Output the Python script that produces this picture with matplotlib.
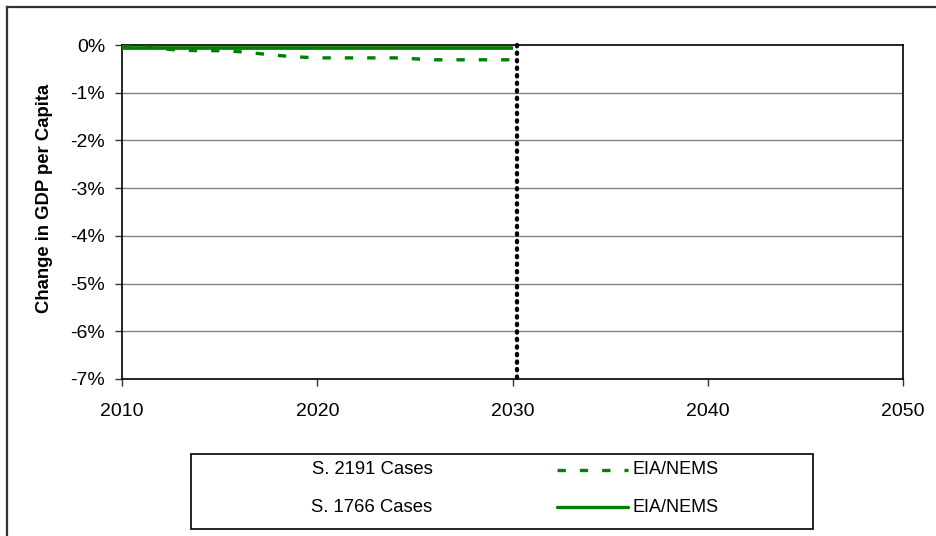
import matplotlib
matplotlib.use("Agg")
import matplotlib.pyplot as plt
from matplotlib.lines import Line2D
from matplotlib.patches import Rectangle

plt.rcParams['font.family'] = ['Liberation Sans', 'DejaVu Sans']

# Data
years = list(range(2010, 2031))
s2191_eia = [-0.01, -0.03, -0.08, -0.11, -0.12, -0.12, -0.14, -0.18, -0.22, -0.25,
             -0.27, -0.27, -0.27, -0.27, -0.27, -0.29, -0.31, -0.31, -0.31, -0.31, -0.31]
s1766_eia = [-0.06] * len(years)
marker_x = [2030.25, 2030.25]
marker_y = [0.0, -7.08]

xticks = [2010, 2020, 2030, 2040, 2050]
yticks = [0, -1, -2, -3, -4, -5, -6, -7]
ytick_labels = ['0%', '-1%', '-2%', '-3%', '-4%', '-5%', '-6%', '-7%']
ylabel = 'Change in GDP per Capita'
legend_groups = ['S. 2191 Cases', 'S. 1766 Cases']
legend_model = 'EIA/NEMS'

W, H = 936, 536
fig = plt.figure(figsize=(W / 100, H / 100), dpi=100)
ax = fig.add_axes([122 / W, 1 - 379 / H, (903 - 122) / W, (379 - 45) / H])

green = '#008000'
for y in yticks[1:-1]:
    ax.axhline(y, color='#808080', lw=1.0, zorder=1)

ax.plot(years, s2191_eia, color=green, lw=2.4, dashes=(2.5, 4.2),
        dash_capstyle='butt', zorder=3)
ax.plot(years, s1766_eia, color=green, lw=2.7, solid_capstyle='butt', zorder=3)
ax.plot(marker_x, marker_y, color='black', lw=3.1, linestyle=(0, (0.3, 1.45)),
        dash_capstyle='round', clip_on=False, zorder=4)

ax.set_xlim(2010, 2050)
ax.set_ylim(-7, 0)
ax.set_xticks(xticks)
ax.set_xticklabels([str(x) for x in xticks], fontsize=14)
ax.set_yticks(yticks)
ax.set_yticklabels(ytick_labels, fontsize=14)
ax.tick_params(axis='both', direction='out', length=5, width=1, color='#333333')
ax.tick_params(axis='y', pad=7)
ax.tick_params(axis='x', pad=12)
for s in ax.spines.values():
    s.set_color('black')
    s.set_linewidth(1.2)

fig.text(45 / W, 1 - 198 / H, ylabel, rotation=90, ha='center', va='center',
         fontsize=13.3, fontweight='bold')

# Figure border (left and top only)
fig.add_artist(Line2D([7 / W, 7 / W], [0, 1 - 7 / H], transform=fig.transFigure,
                      color='#333333', lw=1.6))
fig.add_artist(Line2D([7 / W, 1], [1 - 7 / H, 1 - 7 / H], transform=fig.transFigure,
                      color='#333333', lw=1.6))

# Legend box
fig.add_artist(Rectangle((191 / W, 1 - 529 / H), (813 - 191) / W, (529 - 454) / H,
                         transform=fig.transFigure, fill=False, edgecolor='black', lw=1.2))
rows_y = [470, 507]
styles = [dict(dashes=(2.5, 4.2), dash_capstyle='butt'), dict(solid_capstyle='round')]
for ry, grp, st in zip(rows_y, legend_groups, styles):
    fy = 1 - ry / H
    fig.text(372 / W, fy, grp, ha='center', va='center', fontsize=13.3)
    fig.add_artist(Line2D([557 / W, 628 / W], [fy, fy], transform=fig.transFigure,
                          color=green, lw=2.4, **st))
    fig.text(633 / W, fy, legend_model, ha='left', va='center', fontsize=13)

fig.savefig('out.png', dpi=100)
